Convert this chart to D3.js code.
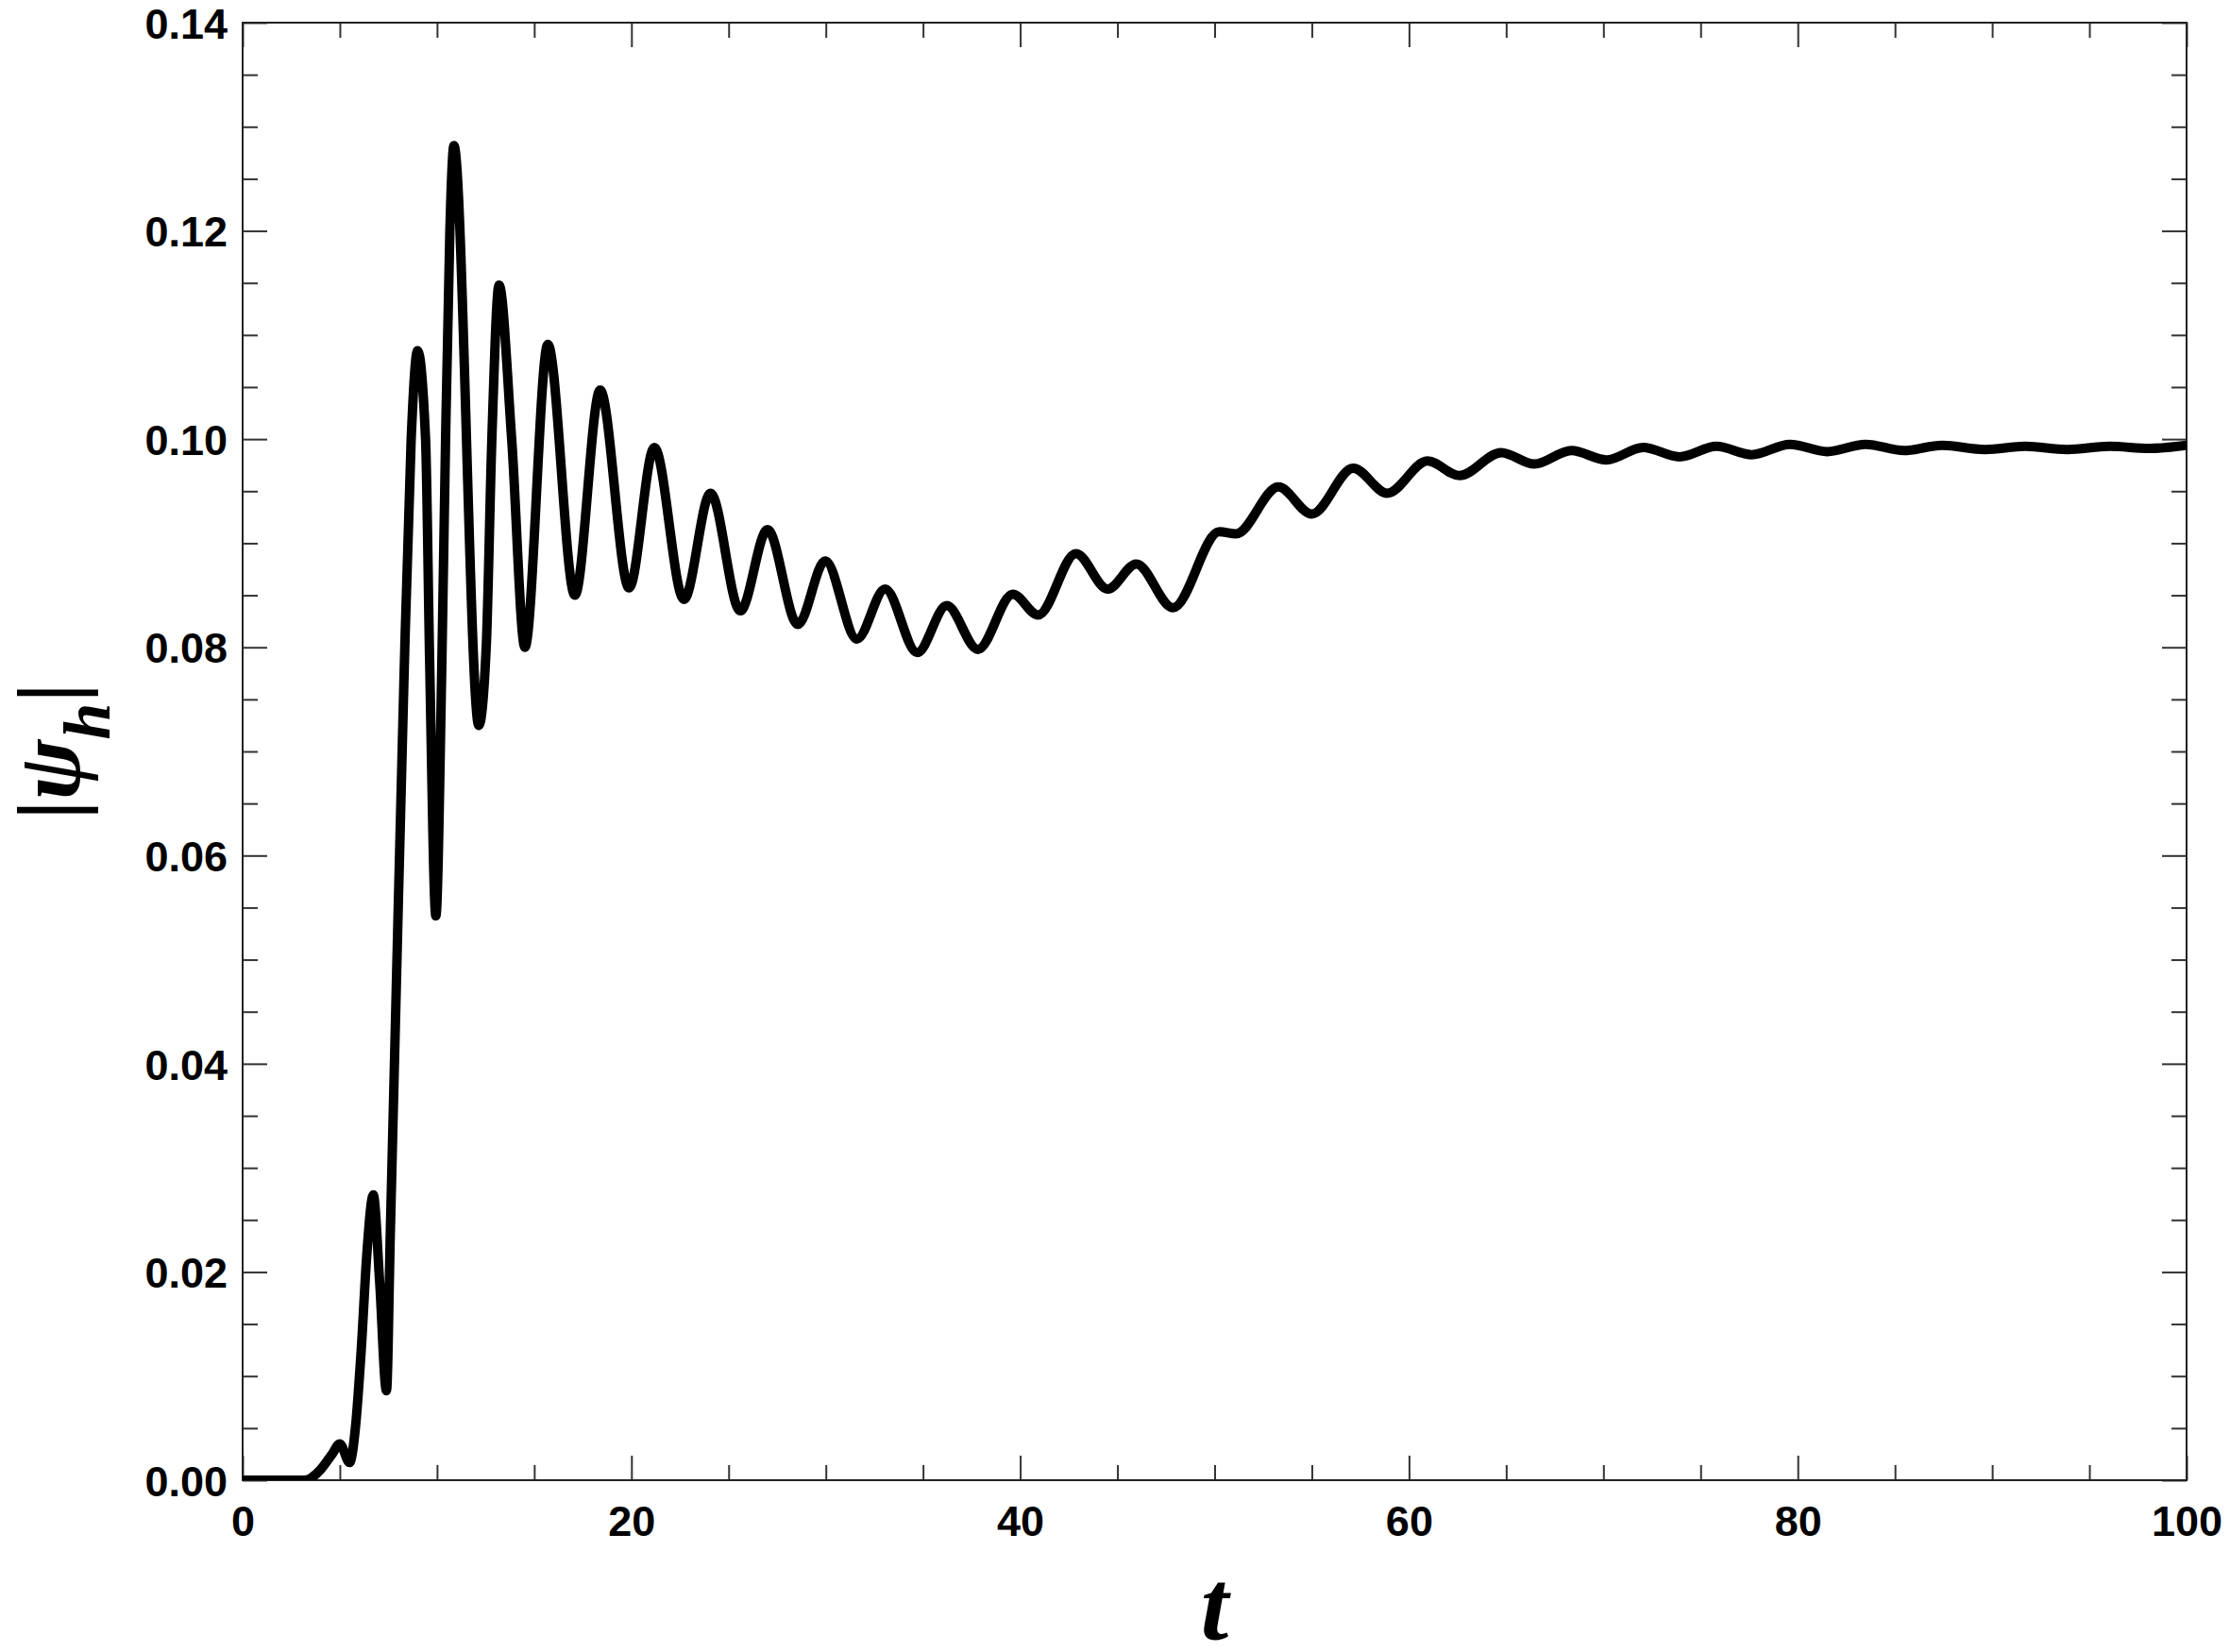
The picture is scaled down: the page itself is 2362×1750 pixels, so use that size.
<!DOCTYPE html>
<html>
<head>
<meta charset="utf-8">
<script src="https://cdnjs.cloudflare.com/ajax/libs/d3/7.8.5/d3.min.js"></script>
<style>
  html, body { margin: 0; padding: 0; background: #fff; }
  svg { display: block; }
</style>
</head>
<body>
<div id="chart"></div>
<script>
// values (peaks, troughs and a few points on the steep flanks)
const tVals = [
  0, 3.2, 4.0, 4.6, 5.0, 5.5, 5.8, 6.1, 6.4, 6.72, 7.05, 7.4,
  7.6, 7.9, 8.3, 8.67, 9.0, 9.41, 9.62, 9.94, 10.25, 10.44, 10.66, 10.87,
  12.15, 12.53, 12.82, 13.19, 13.84, 14.52, 15.70, 17.09, 18.39, 19.88, 21.18, 22.70,
  24.07, 25.6, 27.0, 28.56, 29.97, 31.6, 33.05, 34.7, 36.22, 37.82, 39.62, 40.92,
  42.87, 44.5, 45.97, 47.86, 50.24, 51.1, 53.28, 55.0, 57.13, 58.88, 60.95, 62.6,
  64.74, 66.45, 68.35, 70.16, 72.04, 73.91, 75.82, 77.63, 79.6, 81.51, 83.49, 85.46,
  87.43, 89.63, 91.7, 93.84, 96.05, 98.09, 100
];
const psiVals = [
  0, 0, 0.0010, 0.0025, 0.0035, 0.0017, 0.0050, 0.0125, 0.0220, 0.0274, 0.0190, 0.0086,
  0.0240, 0.0470, 0.0770, 0.1000, 0.1085, 0.1000, 0.0787, 0.0542, 0.0787, 0.1000, 0.1200, 0.1282,
  0.0725, 0.0800, 0.1000, 0.1148, 0.1000, 0.0800, 0.1091, 0.0850, 0.1047, 0.0857, 0.0992, 0.0846,
  0.0948, 0.0835, 0.0913, 0.0822, 0.0883, 0.0808, 0.0856, 0.0795, 0.0840, 0.0798, 0.0851, 0.0831,
  0.0890, 0.0856, 0.0880, 0.0838, 0.0911, 0.0909, 0.0954, 0.0928, 0.0972, 0.0948, 0.0979, 0.0965,
  0.0987, 0.0976, 0.0989, 0.0980, 0.0992, 0.0983, 0.0993, 0.0985, 0.0995, 0.0988, 0.0995, 0.0989,
  0.0994, 0.0990, 0.0993, 0.0990, 0.0993, 0.0991, 0.0994
];

const xMajor = [0, 20, 40, 60, 80, 100];
const xMinor = d3.range(0, 101, 5).filter(d => d % 20 !== 0);
const yMajor = [0, 0.02, 0.04, 0.06, 0.08, 0.10, 0.12, 0.14];
const yMinor = d3.range(0, 28).map(i => i * 0.005).filter((d, i) => i % 4 !== 0);

const width = 2362;
const height = 1750;
const margin = {top: 24, right: 46, bottom: 182, left: 257};
const innerW = width - margin.left - margin.right;
const innerH = height - margin.top - margin.bottom;

const svg = d3.select('#chart').append('svg')
  .attr('width', width)
  .attr('height', height);

const g = svg.append('g')
  .attr('transform', `translate(${margin.left},${margin.top})`);

const x = d3.scaleLinear().domain([0, 100]).range([0, innerW]);
const y = d3.scaleLinear().domain([0, 0.14]).range([innerH, 0]);

const fmtY = d3.format('.2f');

// ticks on all four sides, pointing inwards
function styleAxis(sel) {
  sel.select('.domain').remove();
  sel.selectAll('.tick line').attr('stroke', '#333').attr('stroke-width', 2);
  sel.selectAll('.tick text')
    .attr('fill', '#000')
    .style('font-family', '"Liberation Sans", Arial, sans-serif')
    .style('font-weight', 'bold')
    .style('font-size', '45px');
}

g.append('g').attr('transform', `translate(0,${innerH})`)
  .call(d3.axisBottom(x).tickValues(xMajor).tickSize(-26).tickPadding(27).tickFormat(d3.format('d')))
  .call(styleAxis);
g.append('g').attr('transform', `translate(0,${innerH})`)
  .call(d3.axisBottom(x).tickValues(xMinor).tickSize(-16).tickFormat(''))
  .call(styleAxis);
g.append('g')
  .call(d3.axisTop(x).tickValues(xMajor).tickSize(-26).tickFormat(''))
  .call(styleAxis);
g.append('g')
  .call(d3.axisTop(x).tickValues(xMinor).tickSize(-16).tickFormat(''))
  .call(styleAxis);

g.append('g')
  .call(d3.axisLeft(y).tickValues(yMajor).tickSize(-26).tickPadding(16).tickFormat(fmtY))
  .call(styleAxis)
  .selectAll('.tick text').attr('dy', '0.36em');
g.append('g')
  .call(d3.axisLeft(y).tickValues(yMinor).tickSize(-16).tickFormat(''))
  .call(styleAxis);
g.append('g').attr('transform', `translate(${innerW},0)`)
  .call(d3.axisRight(y).tickValues(yMajor).tickSize(-26).tickFormat(''))
  .call(styleAxis);
g.append('g').attr('transform', `translate(${innerW},0)`)
  .call(d3.axisRight(y).tickValues(yMinor).tickSize(-16).tickFormat(''))
  .call(styleAxis);

// frame
g.append('rect')
  .attr('width', innerW)
  .attr('height', innerH)
  .attr('fill', 'none')
  .attr('stroke', '#222')
  .attr('stroke-width', 2);

g.append('clipPath').attr('id', 'plotClip')
  .append('rect').attr('width', innerW).attr('height', innerH);

const points = tVals.map((t, i) => [t, psiVals[i]]);

const line = d3.line()
  .x(d => x(d[0]))
  .y(d => y(d[1]))
  .curve(d3.curveMonotoneX);

g.append('path')
  .datum(points)
  .attr('clip-path', 'url(#plotClip)')
  .attr('d', line)
  .attr('fill', 'none')
  .attr('stroke', '#000')
  .attr('stroke-width', 10)
  .attr('stroke-linejoin', 'round');

// axis titles
svg.append('text')
  .attr('x', margin.left + innerW / 2)
  .attr('y', 1736)
  .attr('text-anchor', 'middle')
  .style('font-family', '"Liberation Serif", "Times New Roman", serif')
  .style('font-weight', 'bold')
  .style('font-style', 'italic')
  .style('font-size', '106px')
  .text('t');

const yTitle = svg.append('text')
  .attr('transform', `translate(84,${margin.top + innerH / 2}) rotate(-90)`)
  .attr('text-anchor', 'middle')
  .style('font-family', '"Liberation Serif", "Times New Roman", serif')
  .style('font-weight', 'bold')
  .style('font-size', '96px');
yTitle.append('tspan').text('|');
yTitle.append('tspan').style('font-style', 'italic').text('ψ');
yTitle.append('tspan').style('font-style', 'italic').style('font-size', '70px').attr('dy', 32).text('h');
yTitle.append('tspan').attr('dy', -32).text('|');
</script>
</body>
</html>
